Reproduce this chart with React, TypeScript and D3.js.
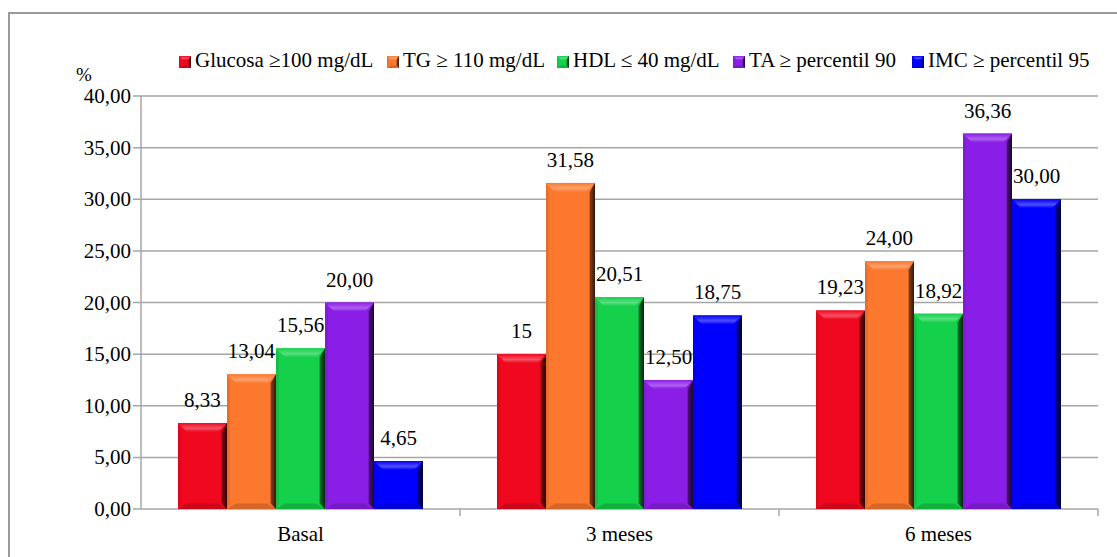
import React from "react";
import * as d3 from "d3";

const categories = ["Basal", "3 meses", "6 meses"];
const seriesNames = [
  "Glucosa \u2265100 mg/dL",
  "TG \u2265 110 mg/dL",
  "HDL \u2264 40 mg/dL",
  "TA \u2265 percentil 90",
  "IMC \u2265 percentil 95",
];
const glucosa = [8.33, 15, 19.23];
const tg = [13.04, 31.58, 24.0];
const hdl = [15.56, 20.51, 18.92];
const ta = [20.0, 12.5, 36.36];
const imc = [4.65, 18.75, 30.0];
const glucosaLabels = ["8,33", "15", "19,23"];
const tgLabels = ["13,04", "31,58", "24,00"];
const hdlLabels = ["15,56", "20,51", "18,92"];
const taLabels = ["20,00", "12,50", "36,36"];
const imcLabels = ["4,65", "18,75", "30,00"];
const yTicks = [0, 5, 10, 15, 20, 25, 30, 35, 40];

const colors = ["#F0081F", "#FB782E", "#14D04A", "#8A1EE6", "#0000FF"];

const series = [glucosa, tg, hdl, ta, imc];
const seriesLabels = [glucosaLabels, tgLabels, hdlLabels, taLabels, imcLabels];

const FONT = "'Liberation Serif', 'Times New Roman', serif";
const ts = { fontFamily: FONT, fontSize: "21px" };

function Bar({ x0, x1, y0, y1, color, id, bev = 9 }: any) {
  const light = d3.interpolateRgb(color, "#ffffff")(0.3);
  const dark = d3.interpolateRgb(color, "#000000")(0.45);
  const darker = d3.interpolateRgb(color, "#000000")(0.8);
  const h = y1 - y0;
  const b = Math.min(bev, h / 2, (x1 - x0) / 2);
  const pts = (arr: number[][]) => arr.map((p) => p.join(",")).join(" ");
  return (
    <g>
      <defs>
        <linearGradient id={`r${id}`} x1="0" x2="1" y1="0" y2="0">
          <stop offset="0" stopColor={dark} />
          <stop offset="1" stopColor={darker} />
        </linearGradient>
        <linearGradient id={`t${id}`} x1="0" x2="0" y1="0" y2="1">
          <stop offset="0" stopColor={color} />
          <stop offset="0.6" stopColor={light} />
          <stop offset="1" stopColor={color} />
        </linearGradient>
      </defs>
      <rect x={x0} y={y0} width={x1 - x0} height={h} fill={color} />
      <polygon
        points={pts([[x0, y0], [x1, y0], [x1 - b, y0 + b], [x0 + b, y0 + b]])}
        fill={`url(#t${id})`}
      />
      <polygon
        points={pts([[x0, y1], [x1, y1], [x1 - b, y1 - b * 0.6], [x0 + b, y1 - b * 0.6]])}
        fill={d3.interpolateRgb(color, "#000000")(0.15)}
      />
      <polygon
        points={pts([[x1, y0], [x1, y1], [x1 - b * 0.6, y1 - b * 0.6], [x1 - b * 0.6, y0 + b]])}
        fill={`url(#r${id})`}
      />
      <polygon
        points={pts([[x0, y0], [x0 + b * 0.3, y0 + b], [x0 + b * 0.3, y1 - b * 0.6], [x0, y1]])}
        fill={d3.interpolateRgb(color, "#000000")(0.08)}
      />
    </g>
  );
}

export default function App() {
  const W = 1117;
  const H = 557;
  const left = 141;
  const right = 1098;
  const top = 96;
  const bottom = 509;

  const x = d3.scaleBand().domain(categories).range([left, right]).paddingInner(0).paddingOuter(0);
  const inner = d3
    .scaleBand()
    .domain(seriesNames)
    .range([0, x.bandwidth()])
    .paddingOuter(0.755)
    .paddingInner(0);
  const y = d3.scaleLinear().domain([0, 40]).range([bottom, top]);

  const legendX = [179, 387, 557, 733, 912];

  return (
    <svg width={W} height={H} style={{ position: "absolute", left: 0, top: 0 }}>
      <rect x={0} y={0} width={W} height={H} fill="#fff" />
      <path d={`M9,${H} V13 H${W}`} fill="none" stroke="#9a9a9a" strokeWidth={2} />
      {yTicks.map((t) => (
        <g key={t}>
          <line x1={left - 8} x2={right} y1={y(t)} y2={y(t)} stroke="#a6a6a6" strokeWidth={1.5} />
          <text x={131} y={y(t) + 7} textAnchor="end" style={ts} fill="#000">
            {t.toFixed(2).replace(".", ",")}
          </text>
        </g>
      ))}
      <line x1={left} x2={left} y1={top} y2={bottom} stroke="#a6a6a6" strokeWidth={1.5} />
      {[...categories.map((c) => x(c)!), right].map((v, i) =>
        i === 0 ? null : (
          <line key={i} x1={v} x2={v} y1={bottom} y2={bottom + 7} stroke="#a6a6a6" strokeWidth={1.5} />
        )
      )}
      <text x={84} y={81} textAnchor="middle" style={{ ...ts, fontSize: "19px" }}>%</text>
      {categories.map((c, ci) => (
        <g key={c}>
          {series.map((s, si) => {
            const x0 = x(c)! + inner(seriesNames[si])!;
            const x1 = x0 + inner.bandwidth();
            return (
              <g key={si}>
                <Bar x0={x0} x1={x1} y0={y(s[ci])} y1={y(0)} color={colors[si]} id={`${ci}-${si}`} />
                <text x={(x0 + x1) / 2} y={y(s[ci]) - 16} textAnchor="middle" style={ts}>
                  {seriesLabels[si][ci]}
                </text>
              </g>
            );
          })}
          <text x={x(c)! + x.bandwidth() / 2} y={541} textAnchor="middle" style={ts}>
            {c}
          </text>
        </g>
      ))}
      {seriesNames.map((n, i) => (
        <g key={n}>
          <Bar x0={legendX[i]} x1={legendX[i] + 12} y0={56} y1={68} color={colors[i]} id={`lg${i}`} bev={4} />
          <text x={legendX[i] + 16} y={67} style={ts}>
            {n}
          </text>
        </g>
      ))}
    </svg>
  );
}
